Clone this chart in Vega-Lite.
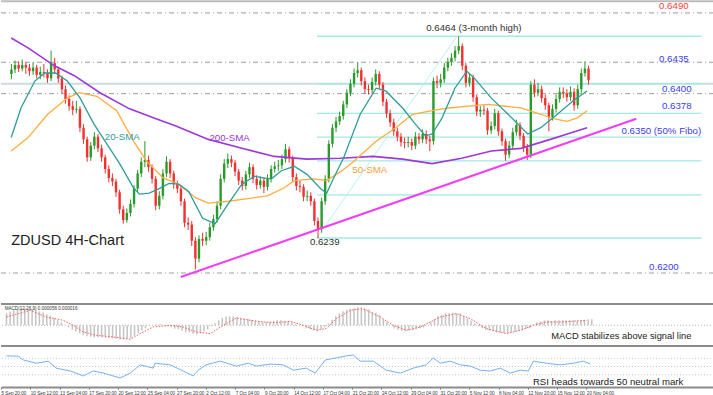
{
"$schema":"https://vega.github.io/schema/vega-lite/v6.json",
"padding":0,
"spacing":0,
"background":"white",
"config":{"view":{"stroke":null},"font":"Liberation Sans"},
"datasets":{
"c":[
{"t":3,"o":0.6422,"h":0.6433,"l":0.6416,"c":0.6427,"m":0.00012},
{"t":5,"o":0.6427,"h":0.6437,"l":0.6423,"c":0.6432,"m":0.000137},
{"t":7,"o":0.6432,"h":0.6436,"l":0.6424,"c":0.6428,"m":0.00015},
{"t":9,"o":0.6428,"h":0.6438,"l":0.6425,"c":0.6432,"m":0.00016},
{"t":11,"o":0.6432,"h":0.6435,"l":0.6422,"c":0.6429,"m":0.000166},
{"t":13,"o":0.6429,"h":0.6433,"l":0.642,"c":0.6425,"m":0.00017},
{"t":15,"o":0.6425,"h":0.6435,"l":0.6421,"c":0.6429,"m":0.000165},
{"t":17,"o":0.6429,"h":0.6432,"l":0.6417,"c":0.6421,"m":0.00016},
{"t":19,"o":0.6421,"h":0.643,"l":0.6416,"c":0.6424,"m":0.00015},
{"t":21,"o":0.6424,"h":0.6433,"l":0.6418,"c":0.6423,"m":0.00014},
{"t":23,"o":0.6423,"h":0.6427,"l":0.6412,"c":0.6417,"m":0.00013},
{"t":25,"o":0.6417,"h":0.6448,"l":0.6414,"c":0.6434,"m":0.00011},
{"t":27,"o":0.6434,"h":0.644,"l":0.6422,"c":0.6427,"m":0.000095},
{"t":29,"o":0.6427,"h":0.643,"l":0.6412,"c":0.6417,"m":0.000075},
{"t":31,"o":0.6417,"h":0.642,"l":0.64,"c":0.6405,"m":0.00005},
{"t":33,"o":0.6405,"h":0.6409,"l":0.6389,"c":0.6394,"m":0.00003},
{"t":35,"o":0.6394,"h":0.6398,"l":0.6381,"c":0.6386,"m":0.000005},
{"t":37,"o":0.6386,"h":0.6392,"l":0.6376,"c":0.6382,"m":-0.00002},
{"t":39,"o":0.6382,"h":0.6392,"l":0.6378,"c":0.6383,"m":-0.000045},
{"t":41,"o":0.6383,"h":0.6386,"l":0.6357,"c":0.6362,"m":-0.00006},
{"t":43,"o":0.6362,"h":0.6366,"l":0.6344,"c":0.6349,"m":-0.00008},
{"t":45,"o":0.6349,"h":0.6352,"l":0.6324,"c":0.6329,"m":-0.0001},
{"t":47,"o":0.6329,"h":0.6346,"l":0.6325,"c":0.6342,"m":-0.00011},
{"t":49,"o":0.6342,"h":0.6357,"l":0.6338,"c":0.6352,"m":-0.000115},
{"t":51,"o":0.6352,"h":0.6355,"l":0.6335,"c":0.6339,"m":-0.00012},
{"t":53,"o":0.6339,"h":0.6343,"l":0.6324,"c":0.6329,"m":-0.00012},
{"t":55,"o":0.6329,"h":0.6332,"l":0.6311,"c":0.6316,"m":-0.00012},
{"t":57,"o":0.6316,"h":0.632,"l":0.6301,"c":0.6306,"m":-0.000122},
{"t":59,"o":0.6306,"h":0.6311,"l":0.6297,"c":0.6302,"m":-0.000125},
{"t":61,"o":0.6302,"h":0.6305,"l":0.6285,"c":0.629,"m":-0.00013},
{"t":63,"o":0.629,"h":0.6293,"l":0.6266,"c":0.6271,"m":-0.000135},
{"t":65,"o":0.6271,"h":0.6275,"l":0.6255,"c":0.6259,"m":-0.00014},
{"t":67,"o":0.6259,"h":0.6272,"l":0.6256,"c":0.6267,"m":-0.00014},
{"t":69,"o":0.6267,"h":0.6282,"l":0.6263,"c":0.6277,"m":-0.000135},
{"t":71,"o":0.6277,"h":0.6298,"l":0.6273,"c":0.6294,"m":-0.00013},
{"t":73,"o":0.6294,"h":0.6315,"l":0.629,"c":0.6311,"m":-0.000105},
{"t":75,"o":0.6311,"h":0.6329,"l":0.6307,"c":0.6324,"m":-0.00008},
{"t":77,"o":0.6324,"h":0.6347,"l":0.6318,"c":0.6326,"m":-0.00005},
{"t":79,"o":0.6326,"h":0.6331,"l":0.6313,"c":0.6318,"m":-0.00003},
{"t":81,"o":0.6318,"h":0.6321,"l":0.63,"c":0.6305,"m":-0.000005},
{"t":83,"o":0.6305,"h":0.6308,"l":0.627,"c":0.6275,"m":0},
{"t":85,"o":0.6275,"h":0.6291,"l":0.6271,"c":0.6286,"m":0.00001},
{"t":87,"o":0.6286,"h":0.6316,"l":0.6282,"c":0.6311,"m":0.00001},
{"t":89,"o":0.6311,"h":0.633,"l":0.6307,"c":0.6324,"m":0},
{"t":91,"o":0.6324,"h":0.6327,"l":0.6306,"c":0.6311,"m":-0.00001},
{"t":93,"o":0.6311,"h":0.6314,"l":0.6294,"c":0.6299,"m":-0.00002},
{"t":95,"o":0.6299,"h":0.6303,"l":0.6289,"c":0.6294,"m":-0.000035},
{"t":97,"o":0.6294,"h":0.6298,"l":0.6275,"c":0.628,"m":-0.00004},
{"t":99,"o":0.628,"h":0.6283,"l":0.6251,"c":0.6256,"m":-0.000055},
{"t":101,"o":0.6256,"h":0.6262,"l":0.6248,"c":0.6254,"m":-0.000065},
{"t":103,"o":0.6254,"h":0.6258,"l":0.623,"c":0.6236,"m":-0.00007},
{"t":105,"o":0.6236,"h":0.624,"l":0.6204,"c":0.6216,"m":-0.000085},
{"t":107,"o":0.6216,"h":0.6242,"l":0.6212,"c":0.6238,"m":-0.00009},
{"t":109,"o":0.6238,"h":0.6245,"l":0.623,"c":0.6236,"m":-0.00008},
{"t":111,"o":0.6236,"h":0.6246,"l":0.6231,"c":0.624,"m":-0.00006},
{"t":113,"o":0.624,"h":0.6256,"l":0.6236,"c":0.6251,"m":-0.00004},
{"t":115,"o":0.6251,"h":0.6265,"l":0.6247,"c":0.626,"m":-0.00001},
{"t":117,"o":0.626,"h":0.628,"l":0.6256,"c":0.6275,"m":0.00002},
{"t":119,"o":0.6275,"h":0.631,"l":0.6271,"c":0.6305,"m":0.00005},
{"t":121,"o":0.6305,"h":0.6327,"l":0.6301,"c":0.6322,"m":0.000075},
{"t":123,"o":0.6322,"h":0.6333,"l":0.6317,"c":0.6327,"m":0.000085},
{"t":125,"o":0.6327,"h":0.6331,"l":0.6318,"c":0.6323,"m":0.00009},
{"t":127,"o":0.6323,"h":0.6326,"l":0.6308,"c":0.6313,"m":0.00009},
{"t":129,"o":0.6313,"h":0.6316,"l":0.6298,"c":0.6303,"m":0.000085},
{"t":131,"o":0.6303,"h":0.6307,"l":0.6292,"c":0.6297,"m":0.000075},
{"t":133,"o":0.6297,"h":0.6314,"l":0.6293,"c":0.631,"m":0.00007},
{"t":135,"o":0.631,"h":0.6323,"l":0.6306,"c":0.6318,"m":0.000065},
{"t":137,"o":0.6318,"h":0.6321,"l":0.63,"c":0.6305,"m":0.000055},
{"t":139,"o":0.6305,"h":0.6309,"l":0.6293,"c":0.6298,"m":0.000045},
{"t":141,"o":0.6298,"h":0.6308,"l":0.6294,"c":0.6303,"m":0.00004},
{"t":143,"o":0.6303,"h":0.6307,"l":0.6289,"c":0.6296,"m":0.000035},
{"t":145,"o":0.6296,"h":0.631,"l":0.6292,"c":0.6305,"m":0.00003},
{"t":147,"o":0.6305,"h":0.632,"l":0.6301,"c":0.6316,"m":0.000035},
{"t":149,"o":0.6316,"h":0.6324,"l":0.6312,"c":0.6319,"m":0.000045},
{"t":151,"o":0.6319,"h":0.6326,"l":0.6314,"c":0.632,"m":0.00005},
{"t":153,"o":0.632,"h":0.6332,"l":0.6316,"c":0.6327,"m":0.00005},
{"t":155,"o":0.6327,"h":0.6344,"l":0.6323,"c":0.6338,"m":0.000045},
{"t":157,"o":0.6338,"h":0.6341,"l":0.6323,"c":0.6328,"m":0.00004},
{"t":159,"o":0.6328,"h":0.6331,"l":0.6302,"c":0.6307,"m":0.00003},
{"t":161,"o":0.6307,"h":0.6311,"l":0.6292,"c":0.6297,"m":0.000015},
{"t":163,"o":0.6297,"h":0.6303,"l":0.629,"c":0.6296,"m":0},
{"t":165,"o":0.6296,"h":0.6299,"l":0.628,"c":0.6285,"m":-0.00001},
{"t":167,"o":0.6285,"h":0.6292,"l":0.628,"c":0.6286,"m":-0.00003},
{"t":169,"o":0.6286,"h":0.629,"l":0.6275,"c":0.628,"m":-0.00004},
{"t":171,"o":0.628,"h":0.6283,"l":0.6253,"c":0.6258,"m":-0.00005},
{"t":173,"o":0.6258,"h":0.6262,"l":0.6239,"c":0.6249,"m":-0.00006},
{"t":175,"o":0.6249,"h":0.6284,"l":0.6245,"c":0.628,"m":-0.00004},
{"t":177,"o":0.628,"h":0.6309,"l":0.6276,"c":0.6305,"m":-0.00002},
{"t":179,"o":0.6305,"h":0.6348,"l":0.6301,"c":0.6344,"m":0.00002},
{"t":181,"o":0.6344,"h":0.6366,"l":0.634,"c":0.6362,"m":0.000055},
{"t":183,"o":0.6362,"h":0.6374,"l":0.6357,"c":0.6369,"m":0.00009},
{"t":185,"o":0.6369,"h":0.638,"l":0.6365,"c":0.6375,"m":0.00012},
{"t":187,"o":0.6375,"h":0.6392,"l":0.6371,"c":0.6388,"m":0.00014},
{"t":189,"o":0.6388,"h":0.6405,"l":0.6384,"c":0.6401,"m":0.000155},
{"t":191,"o":0.6401,"h":0.6416,"l":0.6397,"c":0.6411,"m":0.000165},
{"t":193,"o":0.6411,"h":0.6428,"l":0.6407,"c":0.6423,"m":0.00017},
{"t":195,"o":0.6423,"h":0.6435,"l":0.6418,"c":0.6426,"m":0.00018},
{"t":197,"o":0.6426,"h":0.6429,"l":0.6409,"c":0.6414,"m":0.00018},
{"t":199,"o":0.6414,"h":0.6418,"l":0.64,"c":0.6405,"m":0.00017},
{"t":201,"o":0.6405,"h":0.641,"l":0.6399,"c":0.6404,"m":0.00016},
{"t":203,"o":0.6404,"h":0.6418,"l":0.64,"c":0.6413,"m":0.000135},
{"t":205,"o":0.6413,"h":0.6427,"l":0.6409,"c":0.6422,"m":0.000125},
{"t":207,"o":0.6422,"h":0.6425,"l":0.6405,"c":0.641,"m":0.0001},
{"t":209,"o":0.641,"h":0.6413,"l":0.6386,"c":0.6391,"m":0.00006},
{"t":211,"o":0.6391,"h":0.6394,"l":0.6373,"c":0.6378,"m":0.00003},
{"t":213,"o":0.6378,"h":0.6382,"l":0.6363,"c":0.6368,"m":0},
{"t":215,"o":0.6368,"h":0.6372,"l":0.6353,"c":0.6358,"m":-0.00003},
{"t":217,"o":0.6358,"h":0.6362,"l":0.6347,"c":0.6352,"m":-0.000045},
{"t":219,"o":0.6352,"h":0.6356,"l":0.6341,"c":0.6346,"m":-0.000055},
{"t":221,"o":0.6346,"h":0.6351,"l":0.6339,"c":0.6345,"m":-0.00006},
{"t":223,"o":0.6345,"h":0.6352,"l":0.634,"c":0.6346,"m":-0.000055},
{"t":225,"o":0.6346,"h":0.635,"l":0.6337,"c":0.6342,"m":-0.00005},
{"t":227,"o":0.6342,"h":0.6357,"l":0.6338,"c":0.6352,"m":-0.00004},
{"t":229,"o":0.6352,"h":0.6356,"l":0.6344,"c":0.6349,"m":-0.00003},
{"t":231,"o":0.6349,"h":0.636,"l":0.6345,"c":0.6355,"m":-0.00002},
{"t":233,"o":0.6355,"h":0.6359,"l":0.6344,"c":0.6349,"m":0},
{"t":235,"o":0.6349,"h":0.6353,"l":0.6336,"c":0.6347,"m":0.00003},
{"t":237,"o":0.6347,"h":0.6418,"l":0.6343,"c":0.6414,"m":0.00006},
{"t":239,"o":0.6414,"h":0.642,"l":0.6406,"c":0.6412,"m":0.00009},
{"t":241,"o":0.6412,"h":0.6422,"l":0.6407,"c":0.6416,"m":0.000105},
{"t":243,"o":0.6416,"h":0.6434,"l":0.6412,"c":0.6429,"m":0.00012},
{"t":245,"o":0.6429,"h":0.644,"l":0.6425,"c":0.6435,"m":0.00012},
{"t":247,"o":0.6435,"h":0.6445,"l":0.6431,"c":0.644,"m":0.000125},
{"t":249,"o":0.644,"h":0.6453,"l":0.6436,"c":0.6448,"m":0.00012},
{"t":251,"o":0.6448,"h":0.6464,"l":0.6444,"c":0.6453,"m":0.00012},
{"t":253,"o":0.6453,"h":0.6456,"l":0.6426,"c":0.6431,"m":0.00009},
{"t":255,"o":0.6431,"h":0.6434,"l":0.6407,"c":0.6412,"m":0.00007},
{"t":257,"o":0.6412,"h":0.6423,"l":0.6408,"c":0.6418,"m":0.000045},
{"t":259,"o":0.6418,"h":0.6421,"l":0.6391,"c":0.6396,"m":0.00002},
{"t":261,"o":0.6396,"h":0.6399,"l":0.6375,"c":0.638,"m":-0.00001},
{"t":263,"o":0.638,"h":0.6386,"l":0.6374,"c":0.6382,"m":-0.00003},
{"t":265,"o":0.6382,"h":0.6387,"l":0.6376,"c":0.6381,"m":-0.000045},
{"t":267,"o":0.6381,"h":0.6384,"l":0.6354,"c":0.6359,"m":-0.000055},
{"t":269,"o":0.6359,"h":0.6369,"l":0.6355,"c":0.6364,"m":-0.00006},
{"t":271,"o":0.6364,"h":0.6383,"l":0.636,"c":0.6378,"m":-0.00007},
{"t":273,"o":0.6378,"h":0.6381,"l":0.6353,"c":0.6358,"m":-0.000075},
{"t":275,"o":0.6358,"h":0.6361,"l":0.6342,"c":0.6347,"m":-0.00008},
{"t":277,"o":0.6347,"h":0.635,"l":0.6325,"c":0.6332,"m":-0.00008},
{"t":279,"o":0.6332,"h":0.6347,"l":0.6328,"c":0.6342,"m":-0.00007},
{"t":281,"o":0.6342,"h":0.6362,"l":0.6338,"c":0.6357,"m":-0.000065},
{"t":283,"o":0.6357,"h":0.6371,"l":0.6353,"c":0.6365,"m":-0.000055},
{"t":285,"o":0.6365,"h":0.6368,"l":0.6348,"c":0.6353,"m":-0.00005},
{"t":287,"o":0.6353,"h":0.6356,"l":0.6335,"c":0.634,"m":-0.00004},
{"t":289,"o":0.634,"h":0.6344,"l":0.6326,"c":0.6332,"m":-0.00003},
{"t":291,"o":0.6332,"h":0.6414,"l":0.6328,"c":0.641,"m":0.00001},
{"t":293,"o":0.641,"h":0.6416,"l":0.6396,"c":0.6401,"m":0.00003},
{"t":295,"o":0.6401,"h":0.6412,"l":0.6397,"c":0.6405,"m":0.00004},
{"t":297,"o":0.6405,"h":0.6409,"l":0.639,"c":0.6395,"m":0.00005},
{"t":299,"o":0.6395,"h":0.6399,"l":0.6382,"c":0.6387,"m":0.00005},
{"t":301,"o":0.6387,"h":0.639,"l":0.6358,"c":0.6374,"m":0.000045},
{"t":303,"o":0.6374,"h":0.6388,"l":0.637,"c":0.6383,"m":0.00005},
{"t":305,"o":0.6383,"h":0.6399,"l":0.6379,"c":0.6394,"m":0.00005},
{"t":307,"o":0.6394,"h":0.6407,"l":0.639,"c":0.6402,"m":0.00005},
{"t":309,"o":0.6402,"h":0.6407,"l":0.6395,"c":0.64,"m":0.00005},
{"t":311,"o":0.64,"h":0.6405,"l":0.6391,"c":0.6396,"m":0.00005},
{"t":313,"o":0.6396,"h":0.6408,"l":0.6392,"c":0.6402,"m":0.00005},
{"t":315,"o":0.6402,"h":0.6406,"l":0.6381,"c":0.6387,"m":0.000045},
{"t":317,"o":0.6387,"h":0.641,"l":0.6383,"c":0.6405,"m":0.00005},
{"t":319,"o":0.6405,"h":0.6428,"l":0.6401,"c":0.6423,"m":0.000055},
{"t":321,"o":0.6423,"h":0.6436,"l":0.6419,"c":0.6428,"m":0.00006},
{"t":323,"o":0.6428,"h":0.6431,"l":0.641,"c":0.6415,"m":0.00006}
],
"s200":[{"t":2.9,"v":0.6462},{"t":12.2,"v":0.6451},{"t":26.9,"v":0.6431},{"t":37.9,"v":0.642},{"t":52.1,"v":0.6401},{"t":68.5,"v":0.6383},{"t":83.2,"v":0.6372},{"t":94.2,"v":0.6364},{"t":112.2,"v":0.6349},{"t":130.8,"v":0.6339},{"t":148.8,"v":0.633},{"t":166.9,"v":0.6327},{"t":185.5,"v":0.6328},{"t":203.5,"v":0.633},{"t":219.9,"v":0.6327},{"t":236.3,"v":0.6322},{"t":252.7,"v":0.6328},{"t":269.1,"v":0.6336},{"t":285.5,"v":0.6339},{"t":301.9,"v":0.6349},{"t":311.2,"v":0.6355},{"t":322.2,"v":0.6362}],
"s50":[{"t":2.9,"v":0.6336},{"t":12.2,"v":0.6351},{"t":23.1,"v":0.6377},{"t":34,"v":0.6395},{"t":40.6,"v":0.6401},{"t":50.4,"v":0.6397},{"t":61.4,"v":0.6381},{"t":70.7,"v":0.6347},{"t":77.8,"v":0.6325},{"t":87.1,"v":0.6306},{"t":95.8,"v":0.6299},{"t":105.1,"v":0.6284},{"t":112.2,"v":0.6278},{"t":123.2,"v":0.628},{"t":134.1,"v":0.6283},{"t":145,"v":0.6286},{"t":154.3,"v":0.6295},{"t":159.8,"v":0.6303},{"t":170.7,"v":0.6305},{"t":177.8,"v":0.6303},{"t":185.5,"v":0.6313},{"t":192.6,"v":0.6324},{"t":198.1,"v":0.6334},{"t":205.2,"v":0.6347},{"t":216.1,"v":0.6362},{"t":225.4,"v":0.6377},{"t":236.3,"v":0.6381},{"t":245.6,"v":0.6384},{"t":256.6,"v":0.6386},{"t":267.5,"v":0.6388},{"t":285.5,"v":0.6384},{"t":296.5,"v":0.6377},{"t":303.6,"v":0.6372},{"t":311.2,"v":0.6369},{"t":316.7,"v":0.6373},{"t":322.2,"v":0.6381}],
"s20":[{"t":2.9,"v":0.6351},{"t":8.3,"v":0.6384},{"t":16,"v":0.6414},{"t":21.5,"v":0.6423},{"t":27.5,"v":0.6423},{"t":34,"v":0.6414},{"t":41.1,"v":0.6395},{"t":48.8,"v":0.6366},{"t":55.9,"v":0.6344},{"t":63,"v":0.6322},{"t":70.7,"v":0.6295},{"t":74,"v":0.6288},{"t":79.4,"v":0.6289},{"t":84.9,"v":0.6294},{"t":90.4,"v":0.63},{"t":95.8,"v":0.6299},{"t":101.3,"v":0.6291},{"t":109,"v":0.6261},{"t":116,"v":0.6255},{"t":123.2,"v":0.6277},{"t":130.8,"v":0.6299},{"t":137.9,"v":0.6308},{"t":142.3,"v":0.6306},{"t":147.2,"v":0.6305},{"t":152.7,"v":0.6314},{"t":159.8,"v":0.6319},{"t":166.9,"v":0.631},{"t":174.5,"v":0.6294},{"t":177.8,"v":0.6289},{"t":181.7,"v":0.6306},{"t":187.1,"v":0.6328},{"t":196.4,"v":0.6377},{"t":205.2,"v":0.6406},{"t":210.6,"v":0.6403},{"t":219.9,"v":0.6384},{"t":227,"v":0.6366},{"t":232.5,"v":0.6353},{"t":236.3,"v":0.6355},{"t":241.8,"v":0.6373},{"t":248.9,"v":0.6406},{"t":255.5,"v":0.6425},{"t":259.8,"v":0.6417},{"t":269.1,"v":0.6395},{"t":278.4,"v":0.6377},{"t":289.3,"v":0.6355},{"t":296.5,"v":0.6362},{"t":305.7,"v":0.6377},{"t":314.5,"v":0.6392},{"t":322.2,"v":0.6403}],
"sig":[{"t":2.9,"s":0.000083},{"t":16,"s":0.00015},{"t":24.7,"s":0.000083},{"t":34,"s":0.00005},{"t":39.5,"s":0},{"t":45,"s":-0.000067},{"t":52.1,"s":-0.0001},{"t":61.4,"s":-0.000117},{"t":70.7,"s":-0.00014},{"t":76.1,"s":-0.000083},{"t":83.2,"s":-0.000017},{"t":92.5,"s":0},{"t":99.6,"s":-0.000017},{"t":106.8,"s":-0.000067},{"t":114.4,"s":-0.000083},{"t":121.5,"s":0},{"t":128.6,"s":0.000073},{"t":136.3,"s":0.00005},{"t":143.4,"s":0.000033},{"t":150.5,"s":0.000027},{"t":158.1,"s":0.00004},{"t":165.3,"s":0},{"t":172.4,"s":-0.00005},{"t":177.8,"s":-0.000033},{"t":183.3,"s":0.000067},{"t":191,"s":0.00015},{"t":197,"s":0.000167},{"t":199.7,"s":0.00015},{"t":207.4,"s":0.000083},{"t":214.4,"s":0},{"t":221.6,"s":-0.00005},{"t":229.2,"s":-0.000017},{"t":240.2,"s":0.000083},{"t":248.9,"s":0.000117},{"t":256.6,"s":0.000067},{"t":265.3,"s":-0.000033},{"t":276.2,"s":-0.000083},{"t":283.9,"s":-0.00005},{"t":291,"s":0},{"t":298.1,"s":0.000033},{"t":305.7,"s":0.000033},{"t":320.2,"s":0.00005}],
"rsi":[{"t":2.9,"r":76},{"t":9.4,"r":75},{"t":12.2,"r":66},{"t":19.3,"r":58},{"t":25.8,"r":63},{"t":30.2,"r":46},{"t":37.9,"r":39},{"t":45,"r":27},{"t":50.4,"r":39},{"t":55.9,"r":34},{"t":65.2,"r":22},{"t":70.7,"r":34},{"t":76.1,"r":54},{"t":83.2,"r":46},{"t":84.3,"r":58},{"t":92.5,"r":54},{"t":99.6,"r":39},{"t":105.1,"r":27},{"t":107.8,"r":41},{"t":112.2,"r":54},{"t":119.9,"r":63},{"t":128.6,"r":51},{"t":135.2,"r":58},{"t":139.6,"r":51},{"t":147.2,"r":56},{"t":154.3,"r":54},{"t":159.8,"r":41},{"t":166.9,"r":46},{"t":171.8,"r":34},{"t":177.3,"r":66},{"t":183.3,"r":71},{"t":188.8,"r":76},{"t":192.6,"r":78},{"t":196.4,"r":63},{"t":203.5,"r":63},{"t":210.6,"r":41},{"t":218.3,"r":34},{"t":225.4,"r":46},{"t":232.5,"r":54},{"t":236.3,"r":71},{"t":240.2,"r":58},{"t":245.6,"r":63},{"t":251.1,"r":54},{"t":256.6,"r":51},{"t":262,"r":41},{"t":267.5,"r":39},{"t":273,"r":46},{"t":278.4,"r":34},{"t":283.9,"r":41},{"t":288.3,"r":39},{"t":291,"r":63},{"t":298.1,"r":58},{"t":305.7,"r":54},{"t":312.9,"r":58},{"t":318.3,"r":63},{"t":322.2,"r":56}]
},
"vconcat":[
{"width":713,"height":302,
"layer":[
{"data":{"values":[{"p":0.6503}]},"mark":{"type":"rule","color":"#bdbdbd","strokeWidth":2},
 "encoding":{"y":{"field":"p","type":"quantitative","scale":{"domain":[0.616655,0.650328],"zero":false,"nice":false},"axis":null}}},
{"data":{"values":[{"p":0.6411}]},"mark":{"type":"rule","color":"#cbdbe2","strokeWidth":2},
 "encoding":{"y":{"field":"p","type":"quantitative","scale":{"domain":[0.616655,0.650328],"zero":false,"nice":false},"axis":null}}},
{"data":{"values":[{"p":0.649},{"p":0.6435},{"p":0.64},{"p":0.62}]},"mark":{"type":"rule","color":"#9e9e9e","strokeWidth":1,"strokeDash":[5,3,1,3]},
 "encoding":{"y":{"field":"p","type":"quantitative","scale":{"domain":[0.616655,0.650328],"zero":false,"nice":false},"axis":null}}},
{"data":{"values":[{"t":172.4,"t2":385.6,"p":0.6464},{"t":172.4,"t2":385.6,"p":0.6411},{"t":172.4,"t2":385.6,"p":0.6378},{"t":172.4,"t2":385.6,"p":0.63515},{"t":172.4,"t2":385.6,"p":0.6325},{"t":172.4,"t2":385.6,"p":0.6287},{"t":172.4,"t2":385.6,"p":0.6239}]},
 "mark":{"type":"rule","color":"#a3e9e4","strokeWidth":1.3},
 "encoding":{"x":{"field":"t","type":"quantitative","scale":{"domain":[0,389.8]},"axis":null},"x2":{"field":"t2"},
  "y":{"field":"p","type":"quantitative","scale":{"domain":[0.616655,0.650328],"zero":false,"nice":false},"axis":null}}},
{"data":{"values":[{"t":172.4,"p":0.6239,"t2":250,"p2":0.6464}]},"mark":{"type":"rule","color":"#aeeeee","strokeWidth":0.9},
 "encoding":{"x":{"field":"t","type":"quantitative","scale":{"domain":[0,389.8]},"axis":null},"x2":{"field":"t2"},
  "y":{"field":"p","type":"quantitative","scale":{"domain":[0.616655,0.650328],"zero":false,"nice":false},"axis":null},"y2":{"field":"p2"}}},
{"data":{"name":"c"},"mark":{"type":"rule","strokeWidth":1},
 "encoding":{"x":{"field":"t","type":"quantitative","scale":{"domain":[0,389.8]},"axis":null},
  "y":{"field":"l","type":"quantitative","scale":{"domain":[0.616655,0.650328],"zero":false,"nice":false},"axis":null},"y2":{"field":"h"},
  "color":{"condition":{"test":"datum.c >= datum.o","value":"#2a9a2a"},"value":"#f23030"}}},
{"data":{"name":"c"},"mark":{"type":"bar","width":2.4},
 "encoding":{"x":{"field":"t","type":"quantitative","scale":{"domain":[0,389.8]},"axis":null},
  "y":{"field":"o","type":"quantitative","scale":{"domain":[0.616655,0.650328],"zero":false,"nice":false},"axis":null},"y2":{"field":"c"},
  "color":{"condition":{"test":"datum.c >= datum.o","value":"#2a9a2a"},"value":"#f23030"}}},
{"data":{"name":"s200"},"mark":{"type":"line","color":"#9b38d8","strokeWidth":1.6},
 "encoding":{"x":{"field":"t","type":"quantitative","scale":{"domain":[0,389.8]},"axis":null},
  "y":{"field":"v","type":"quantitative","scale":{"domain":[0.616655,0.650328],"zero":false,"nice":false},"axis":null}}},
{"data":{"name":"s50"},"mark":{"type":"line","color":"#ffad3d","strokeWidth":1.3},
 "encoding":{"x":{"field":"t","type":"quantitative","scale":{"domain":[0,389.8]},"axis":null},
  "y":{"field":"v","type":"quantitative","scale":{"domain":[0.616655,0.650328],"zero":false,"nice":false},"axis":null}}},
{"data":{"name":"s20"},"mark":{"type":"line","color":"#2f9c9c","strokeWidth":1.3},
 "encoding":{"x":{"field":"t","type":"quantitative","scale":{"domain":[0,389.8]},"axis":null},
  "y":{"field":"v","type":"quantitative","scale":{"domain":[0.616655,0.650328],"zero":false,"nice":false},"axis":null}}},
{"data":{"values":[{"t":96.9,"p":0.61955,"t2":349.5,"p2":0.6372}]},"mark":{"type":"rule","color":"#f23ef2","strokeWidth":2},
 "encoding":{"x":{"field":"t","type":"quantitative","scale":{"domain":[0,389.8]},"axis":null},"x2":{"field":"t2"},
  "y":{"field":"p","type":"quantitative","scale":{"domain":[0.616655,0.650328],"zero":false,"nice":false},"axis":null},"y2":{"field":"p2"}}},
{"data":{"values":[{"t":362.1,"p":0.6439,"txt":"0.6435"},{"t":363.7,"p":0.6405,"txt":"0.6400"},{"t":363.7,"p":0.6386,"txt":"0.6378"},{"t":341.3,"p":0.6358,"txt":"0.6350 (50% Fibo)"},{"t":356.6,"p":0.6207,"txt":"0.6200"}]},
 "mark":{"type":"text","align":"left","baseline":"middle","fontSize":9.7,"color":"#3c3cf0"},
 "encoding":{"x":{"field":"t","type":"quantitative","scale":{"domain":[0,389.8]},"axis":null},
  "y":{"field":"p","type":"quantitative","scale":{"domain":[0.616655,0.650328],"zero":false,"nice":false},"axis":null},"text":{"field":"txt"}}},
{"data":{"values":[{"t":362.1,"p":0.6498,"txt":"0.6490"}]},
 "mark":{"type":"text","align":"left","baseline":"middle","fontSize":9.7,"color":"#ff3b3b"},
 "encoding":{"x":{"field":"t","type":"quantitative","scale":{"domain":[0,389.8]},"axis":null},
  "y":{"field":"p","type":"quantitative","scale":{"domain":[0.616655,0.650328],"zero":false,"nice":false},"axis":null},"text":{"field":"txt"}}},
{"data":{"values":[{"t":233,"p":0.6473,"txt":"0.6464 (3-month high)"},{"t":168.5,"p":0.62346,"txt":"0.6239"}]},
 "mark":{"type":"text","align":"left","baseline":"middle","fontSize":9.7,"color":"#333333"},
 "encoding":{"x":{"field":"t","type":"quantitative","scale":{"domain":[0,389.8]},"axis":null},
  "y":{"field":"p","type":"quantitative","scale":{"domain":[0.616655,0.650328],"zero":false,"nice":false},"axis":null},"text":{"field":"txt"}}},
{"data":{"values":[{"t":2.9,"p":0.62357,"txt":"ZDUSD 4H-Chart"}]},
 "mark":{"type":"text","align":"left","baseline":"middle","fontSize":14.5,"color":"#222222"},
 "encoding":{"x":{"field":"t","type":"quantitative","scale":{"domain":[0,389.8]},"axis":null},
  "y":{"field":"p","type":"quantitative","scale":{"domain":[0.616655,0.650328],"zero":false,"nice":false},"axis":null},"text":{"field":"txt"}}},
{"data":{"values":[{"t":54.8,"p":0.6352,"txt":"20-SMA"}]},
 "mark":{"type":"text","align":"left","baseline":"middle","fontSize":9.7,"color":"#2f9c9c"},
 "encoding":{"x":{"field":"t","type":"quantitative","scale":{"domain":[0,389.8]},"axis":null},
  "y":{"field":"p","type":"quantitative","scale":{"domain":[0.616655,0.650328],"zero":false,"nice":false},"axis":null},"text":{"field":"txt"}}},
{"data":{"values":[{"t":112.8,"p":0.6351,"txt":"200-SMA"}]},
 "mark":{"type":"text","align":"left","baseline":"middle","fontSize":9.7,"color":"#9b38d8"},
 "encoding":{"x":{"field":"t","type":"quantitative","scale":{"domain":[0,389.8]},"axis":null},
  "y":{"field":"p","type":"quantitative","scale":{"domain":[0.616655,0.650328],"zero":false,"nice":false},"axis":null},"text":{"field":"txt"}}},
{"data":{"values":[{"t":192,"p":0.6315,"txt":"50-SMA"}]},
 "mark":{"type":"text","align":"left","baseline":"middle","fontSize":9.7,"color":"#f5a040"},
 "encoding":{"x":{"field":"t","type":"quantitative","scale":{"domain":[0,389.8]},"axis":null},
  "y":{"field":"p","type":"quantitative","scale":{"domain":[0.616655,0.650328],"zero":false,"nice":false},"axis":null},"text":{"field":"txt"}}}
]},
{"width":713,"height":41,
"layer":[
{"data":{"values":[{"v":0.000213}]},"mark":{"type":"rule","color":"#8c8c8c","strokeWidth":2},
 "encoding":{"y":{"field":"v","type":"quantitative","scale":{"domain":[-0.000197,0.000213],"zero":false,"nice":false},"axis":null}}},
{"data":{"values":[{"v":0}]},"mark":{"type":"rule","color":"#bbbbbb","strokeWidth":1,"strokeDash":[1,2]},
 "encoding":{"y":{"field":"v","type":"quantitative","scale":{"domain":[-0.000197,0.000213],"zero":false,"nice":false},"axis":null}}},
{"data":{"name":"c"},"mark":{"type":"rule","color":"#c4c4c4","strokeWidth":1.5},
 "encoding":{"x":{"field":"t","type":"quantitative","scale":{"domain":[0,389.8]},"axis":null},
  "y":{"field":"m","type":"quantitative","scale":{"domain":[-0.000197,0.000213],"zero":false,"nice":false},"axis":null},"y2":{"datum":0}}},
{"data":{"name":"sig"},"mark":{"type":"line","color":"#ff5c5c","strokeWidth":1,"strokeDash":[1.5,1.5]},
 "encoding":{"x":{"field":"t","type":"quantitative","scale":{"domain":[0,389.8]},"axis":null},
  "y":{"field":"s","type":"quantitative","scale":{"domain":[-0.000197,0.000213],"zero":false,"nice":false},"axis":null}}},
{"data":{"values":[{"t":2,"v":0.000165,"txt":"MACD(12,26,9) 0.000056 0.000016"}]},
 "mark":{"type":"text","align":"left","baseline":"middle","fontSize":4.6,"color":"#333333"},
 "encoding":{"x":{"field":"t","type":"quantitative","scale":{"domain":[0,389.8]},"axis":null},
  "y":{"field":"v","type":"quantitative","scale":{"domain":[-0.000197,0.000213],"zero":false,"nice":false},"axis":null},"text":{"field":"txt"}}},
{"data":{"values":[{"t":377.4,"v":-0.000107,"txt":"MACD stabilizes above signal line"}]},
 "mark":{"type":"text","align":"right","baseline":"middle","fontSize":9.3,"color":"#222222"},
 "encoding":{"x":{"field":"t","type":"quantitative","scale":{"domain":[0,389.8]},"axis":null},
  "y":{"field":"v","type":"quantitative","scale":{"domain":[-0.000197,0.000213],"zero":false,"nice":false},"axis":null},"text":{"field":"txt"}}}
]},
{"width":713,"height":41,
"layer":[
{"data":{"values":[{"r":100}]},"mark":{"type":"rule","color":"#8c8c8c","strokeWidth":2},
 "encoding":{"y":{"field":"r","type":"quantitative","scale":{"domain":[0,100],"nice":false},"axis":null}}},
{"data":{"values":[{"r":30},{"r":50},{"r":70}]},"mark":{"type":"rule","color":"#c8c8c8","strokeWidth":1,"strokeDash":[1,2]},
 "encoding":{"y":{"field":"r","type":"quantitative","scale":{"domain":[0,100],"nice":false},"axis":null}}},
{"data":{"name":"rsi"},"mark":{"type":"line","color":"#74b2f0","strokeWidth":1},
 "encoding":{"x":{"field":"t","type":"quantitative","scale":{"domain":[0,389.8]},
   "axis":{"values":[0,16,32,48,64,80,96,112,128,144,160,176,192,208,224,240,256,272,288,304,320],
    "labelExpr":"['5 Sep 20:00','10 Sep 12:00','13 Sep 04:00','17 Sep 20:00','20 Sep 12:00','25 Sep 04:00','27 Sep 20:00','2 Oct 12:00','7 Oct 04:00','9 Oct 20:00','14 Oct 12:00','17 Oct 04:00','21 Oct 20:00','24 Oct 12:00','29 Oct 04:00','31 Oct 20:00','5 Nov 12:00','8 Nov 04:00','12 Nov 20:00','15 Nov 12:00','20 Nov 04:00'][round(datum.value/16)]",
    "labelAlign":"left","labelFontSize":4.6,"labelColor":"#333333","labelPadding":1,"labelOverlap":false,"labelFlush":false,
    "tickSize":2,"tickColor":"#666666","domainColor":"#8c8c8c","domainWidth":2,"grid":false,"title":null}},
  "y":{"field":"r","type":"quantitative","scale":{"domain":[0,100],"nice":false},"axis":null}}},
{"data":{"values":[{"t":373,"r":13.4,"txt":"RSI heads towards 50 neutral mark"}]},
 "mark":{"type":"text","align":"right","baseline":"middle","fontSize":9.6,"color":"#222222"},
 "encoding":{"x":{"field":"t","type":"quantitative","scale":{"domain":[0,389.8]},
   "axis":{"values":[0,16,32,48,64,80,96,112,128,144,160,176,192,208,224,240,256,272,288,304,320],
    "labelExpr":"['5 Sep 20:00','10 Sep 12:00','13 Sep 04:00','17 Sep 20:00','20 Sep 12:00','25 Sep 04:00','27 Sep 20:00','2 Oct 12:00','7 Oct 04:00','9 Oct 20:00','14 Oct 12:00','17 Oct 04:00','21 Oct 20:00','24 Oct 12:00','29 Oct 04:00','31 Oct 20:00','5 Nov 12:00','8 Nov 04:00','12 Nov 20:00','15 Nov 12:00','20 Nov 04:00'][round(datum.value/16)]",
    "labelAlign":"left","labelFontSize":4.6,"labelColor":"#333333","labelPadding":1,"labelOverlap":false,"labelFlush":false,
    "tickSize":2,"tickColor":"#666666","domainColor":"#8c8c8c","domainWidth":2,"grid":false,"title":null}},
  "y":{"field":"r","type":"quantitative","scale":{"domain":[0,100],"nice":false},"axis":null},"text":{"field":"txt"}}}
]}
]
}
